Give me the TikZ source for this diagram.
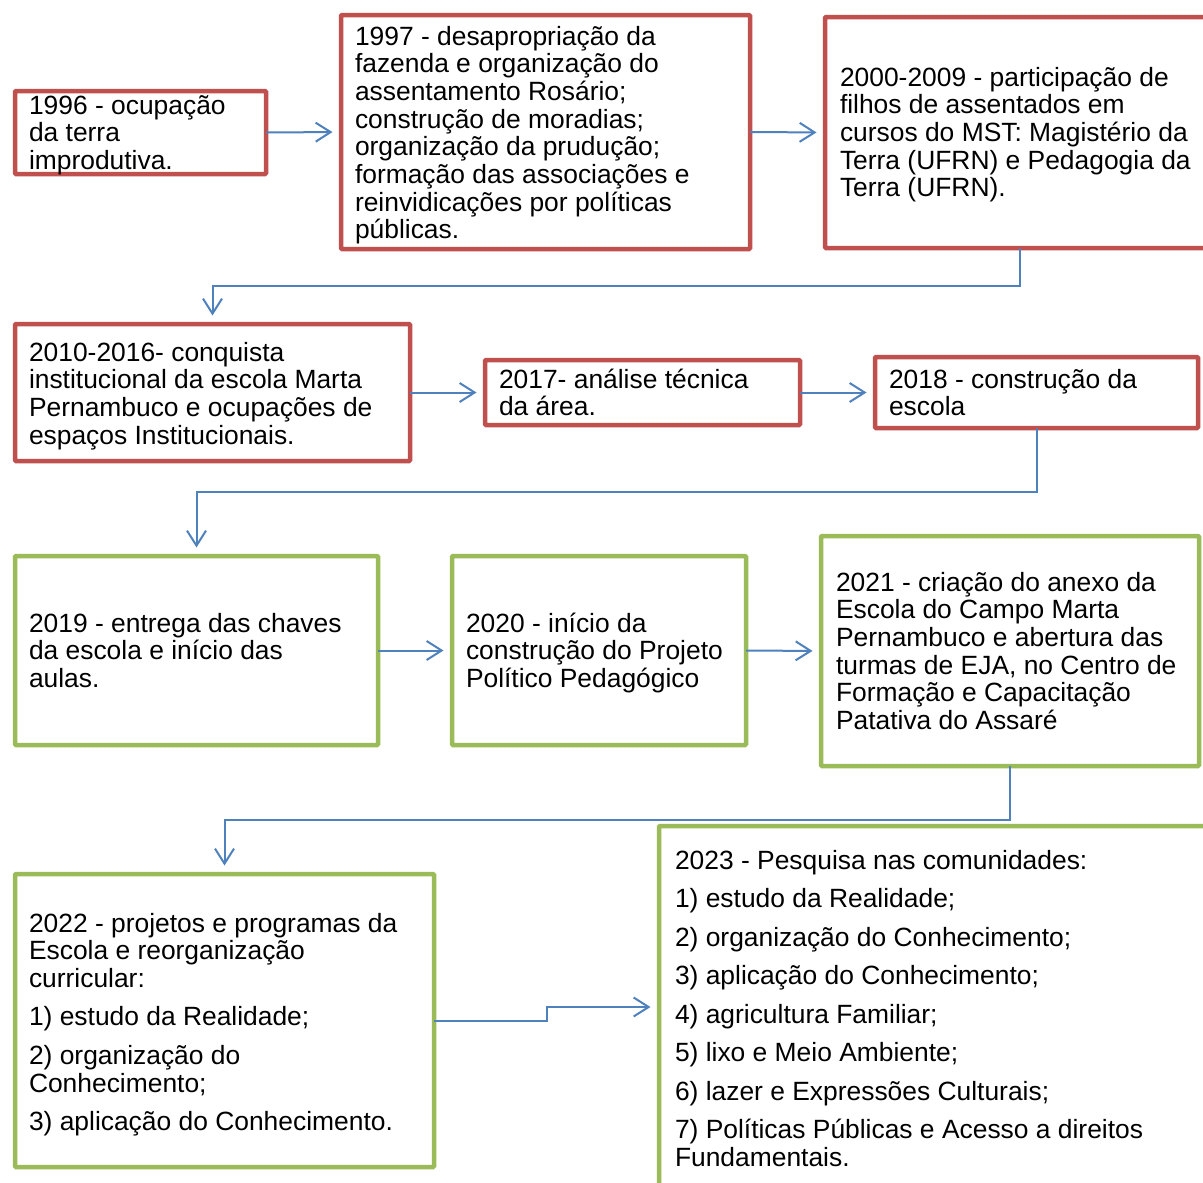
\documentclass[tikz,border=0pt]{standalone}
\usepackage{fontspec}
\setmainfont{Liberation Sans}
\usetikzlibrary{arrows.meta,fit,calc}
\definecolor{boxred}{HTML}{C0504D}
\definecolor{boxgreen}{HTML}{9BBB59}
\definecolor{linkblue}{HTML}{4F81BD}
\tikzset{
  boxbase/.style={draw, line width=4.5pt, inner sep=0pt, outer sep=0pt, rounded corners=1pt, fill=white},
  redbox/.style={boxbase, draw=boxred},
  greenbox/.style={boxbase, draw=boxgreen},
  % anchor = baseline of the LAST line of the text
  txt/.style={inner sep=0pt, outer sep=0pt, anchor=base west, align=left, text=black,
    font=\fontsize{26.4}{27.7}\selectfont},
  conn/.style={draw=linkblue, line width=2pt, shorten >=8.5pt,
    -{Straight Barb[length=15pt,width=19pt,line width=2pt]}},
}
\begin{document}
\begin{tikzpicture}[x=1pt,y=-1pt]
\useasboundingbox (0,0) rectangle (1203,1183);
\clip (0,0) rectangle (1203,1183);
\fill[white] (0,0) rectangle (1203,1183);

% boxes
\node[redbox, fit={(15,91) (266,174)}] (b1) {};
\node[redbox, fit={(341,15) (750,249)}] (b2) {};
\node[redbox, fit={(825,17) (1215,248)}] (b3) {};
\node[redbox, fit={(15,324) (410,461)}] (b4) {};
\node[redbox, fit={(485,360) (800,425)}] (b5) {};
\node[redbox, fit={(875,357) (1198,428)}] (b6) {};
\node[greenbox, fit={(15,556) (378,745)}] (b7) {};
\node[greenbox, fit={(452,556) (746,745)}] (b8) {};
\node[greenbox, fit={(821,536) (1199,766)}] (b9) {};
\node[greenbox, fit={(15,874) (434,1167)}] (b10) {};
\node[greenbox, fit={(659,826) (1215,1188)}] (b11) {};

% texts (placed by the baseline of their last line)
\node[txt] (t1) at (29,169.4) {1996 - ocupação\\da terra\\improdutiva.};
\node[txt] (t2) at (355,238.9) {1997 - desapropriação da\\fazenda e organização do\\assentamento Rosário;\\construção de moradias;\\organização da prudução;\\formação das associações e\\reinvidicações por políticas\\públicas.};
\node[txt] (t3) at (840,196.8) {2000-2009 - participação de\\filhos de assentados em\\cursos do MST: Magistério da\\Terra (UFRN) e Pedagogia da\\Terra (UFRN).};
\node[txt] (t4) at (29,444.1) {2010-2016- conquista\\institucional da escola Marta\\Pernambuco e ocupações de\\espaços Institucionais.};
\node[txt] (t5) at (499,415.7) {2017- análise técnica\\da área.};
\node[txt] (t6) at (889,415.7) {2018 - construção da\\escola};
\node[txt] (t7) at (29,687.4) {2019 - entrega das chaves\\da escola e início das\\aulas.};
\node[txt] (t8) at (466,687.4) {2020 - início da\\construção do Projeto\\Político Pedagógico};
\node[txt] (t9) at (836,729.5) {2021 - criação do anexo da\\Escola do Campo Marta\\Pernambuco e abertura das\\turmas de EJA, no Centro de\\Formação e Capacitação\\Patativa do Assaré};
\node[txt] (t10) at (29,1130.6) {2022 - projetos e programas da\\Escola e reorganização\\curricular:\\[10.8pt]1) estudo da Realidade;\\[10.8pt]2) organização do\\Conhecimento;\\[10.8pt]3) aplicação do Conhecimento.};
\node[txt] (t11) at (675,1166.2) {2023 - Pesquisa nas comunidades:\\[10.8pt]1) estudo da Realidade;\\[10.8pt]2) organização do Conhecimento;\\[10.8pt]3) aplicação do Conhecimento;\\[10.8pt]4) agricultura Familiar;\\[10.8pt]5) lixo e Meio Ambiente;\\[10.8pt]6) lazer e Expressões Culturais;\\[10.8pt]7) Políticas Públicas e Acesso a direitos\\Fundamentais.};

% connectors
\draw[conn] (b1.east) -- (b2.west);
\draw[conn] (b2.east) -- (b3.west);
\draw[conn] (b3.south) |- ($(b3.south)!.5!(b4.north)$) -| (b4.north);
\draw[conn] (b4.east) -- (b5.west);
\draw[conn] (b5.east) -- (b6.west);
\draw[conn] (b6.south) |- ($(b6.south)!.5!(b7.north)$) -| (b7.north);
\draw[conn] (b7.east) -- (b8.west);
\draw[conn] (b8.east) -- (b9.west);
\draw[conn] (b9.south) |- ($(b9.south)!.5!(b10.north)$) -| (b10.north);
\draw[conn] (b10.east) -| ($(b10.east)!.5!(b11.west)$) |- (b11.west);
\end{tikzpicture}
\end{document}
